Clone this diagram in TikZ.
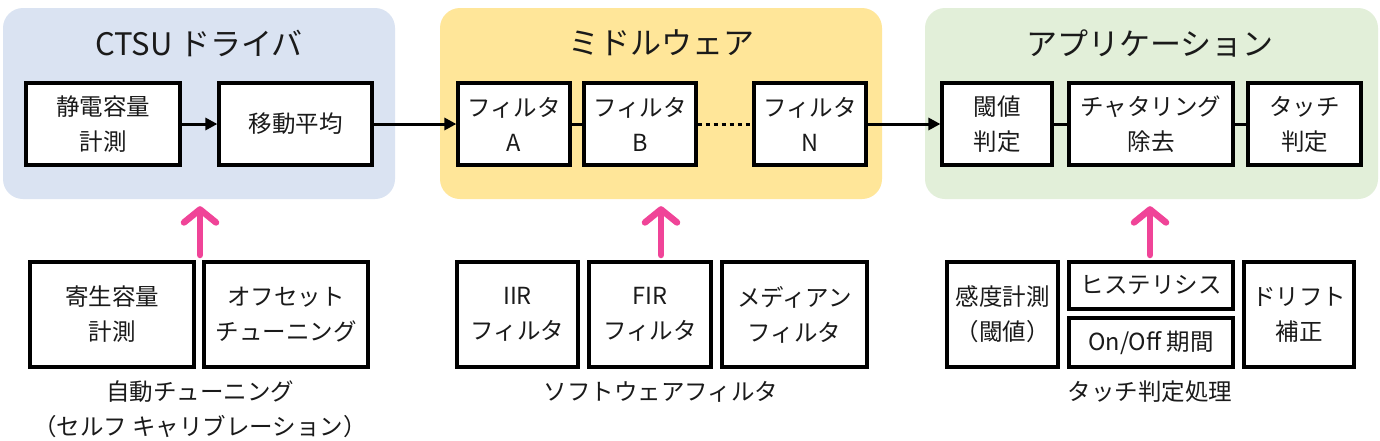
\documentclass[tikz,border=0pt]{standalone}
\usepackage{fontspec}
\setmainfont{Noto Sans CJK JP}
\usepackage{xcolor}
\usetikzlibrary{arrows.meta, positioning}
\definecolor{CTSUBlue}{RGB}{218, 227, 242}
\definecolor{CTSUYellow}{RGB}{255, 230, 153}
\definecolor{CTSUGreen}{RGB}{226, 239, 217}
\definecolor{CTSUPink}{RGB}{240, 68, 152}
\definecolor{CTSUText}{RGB}{26, 26, 26}

\newcommand{\ctsuboxfont}{\fontsize{23.5}{35}\selectfont}
\newcommand{\ctsutitlefont}{\fontsize{31}{34}\selectfont}

\tikzset{
  group/.style={rounded corners=20pt, inner sep=0pt, minimum height=191pt, minimum width=#1},
  grouptitle/.style={font=\ctsutitlefont, text=CTSUText, inner sep=0pt},
  block/.style={draw=black, line width=3.2pt, fill=white, inner sep=0pt, align=center,
    font=\ctsuboxfont, text=CTSUText},
  caption/.style={font=\ctsuboxfont, text=CTSUText, inner sep=0pt, align=center},
  flow/.style={line width=3pt, -{Triangle[length=12pt, width=12pt]}},
  link/.style={line width=3pt},
  tunearrow/.style={CTSUPink, line width=6.5pt, line cap=round,
    -{Straight Barb[length=13pt, width=32pt, round]}}
}

\begin{document}
\begin{tikzpicture}[x=1pt,y=-1pt]
  \path[use as bounding box] (0,0) rectangle (1380,440);
  \fill[white] (0,0) rectangle (1380,440);

  % three layers
  \node[group=392pt, fill=CTSUBlue] (drv) at (199,103.5) {};
  \node[group=442pt, fill=CTSUYellow] (mid) at (661,103.5) {};
  \node[group=453pt, fill=CTSUGreen] (app) at (1151.5,103.5) {};
  \node[grouptitle] (drvT) at (199,43) {CTSU ドライバ};
  \node[grouptitle] (midT) at (661,43) {ミドルウェア};
  \node[grouptitle] (appT) at (1150,43) {アプリケーション};

  % processing chain
  \node[block, minimum width=154pt, minimum height=82pt] (meas) at (103,124) {静電容量\\計測};
  \node[block, minimum width=153pt, minimum height=82pt] (avg) at (295.5,124) {移動平均};
  \node[block, minimum width=112pt, minimum height=82pt] (fA) at (514,124) {フィルタ\\A};
  \node[block, minimum width=112pt, minimum height=82pt] (fB) at (640,124) {フィルタ\\B};
  \node[block, minimum width=112pt, minimum height=82pt] (fN) at (810,124) {フィルタ\\N};
  \node[block, minimum width=110pt, minimum height=82pt] (thr) at (997,124) {閾値\\判定};
  \node[block, minimum width=164pt, minimum height=82pt] (chat) at (1151,124) {チャタリング\\除去};
  \node[block, minimum width=113pt, minimum height=82pt] (touch) at (1304.5,124) {タッチ\\判定};

  \draw[flow] (meas) -- (avg);
  \draw[flow] (avg) -- (fA);
  \draw[link] (fA) -- (fB);
  \draw[link, dash pattern=on 4.5pt off 3.5pt] (fB) -- (fN);
  \draw[flow] (fN) -- (thr);
  \draw[link] (thr) -- (chat);
  \draw[link] (chat) -- (touch);

  % supporting functions
  \node[block, minimum width=164pt, minimum height=105pt] (para) at (112,314.5) {寄生容量\\計測};
  \node[block, minimum width=164pt, minimum height=105pt] (ofs) at (286,314.5) {オフセット\\チューニング};
  \node[block, minimum width=121pt, minimum height=105pt] (iir) at (517.5,314.5) {IIR\\フィルタ};
  \node[block, minimum width=122pt, minimum height=105pt] (fir) at (650,314.5) {FIR\\フィルタ};
  \node[block, minimum width=145pt, minimum height=105pt] (med) at (794.5,314.5) {メディアン\\フィルタ};
  \node[block, minimum width=111pt, minimum height=105pt] (sens) at (1002.5,314.5) {感度計測\\（閾値）};
  \node[block, minimum width=164pt, minimum height=47pt] (hys) at (1151,285.5) {ヒステリシス};
  \node[block, minimum width=164pt, minimum height=49pt] (onoff) at (1151,342.5) {On/Off 期間};
  \node[block, minimum width=110pt, minimum height=105pt] (drift) at (1299,314.5) {ドリフト\\補正};

  \node[caption] (tuneC) at (200,409.5) {自動チューニング\\（セルフ キャリブレーション）};
  \node[caption] (filtC) at (661,392) {ソフトウェアフィルタ};
  \node[caption] (judgeC) at (1150,392) {タッチ判定処理};

  \coordinate (tuneUp) at (200,255);
  \coordinate (filtUp) at (661,255);
  \coordinate (judgeUp) at (1150,255);
  \draw[tunearrow] (tuneUp) -- ([yshift=-7pt]drv.south -| tuneUp);
  \draw[tunearrow] (filtUp) -- ([yshift=-7pt]mid.south -| filtUp);
  \draw[tunearrow] (judgeUp) -- ([yshift=-7pt]app.south -| judgeUp);
\end{tikzpicture}
\end{document}
